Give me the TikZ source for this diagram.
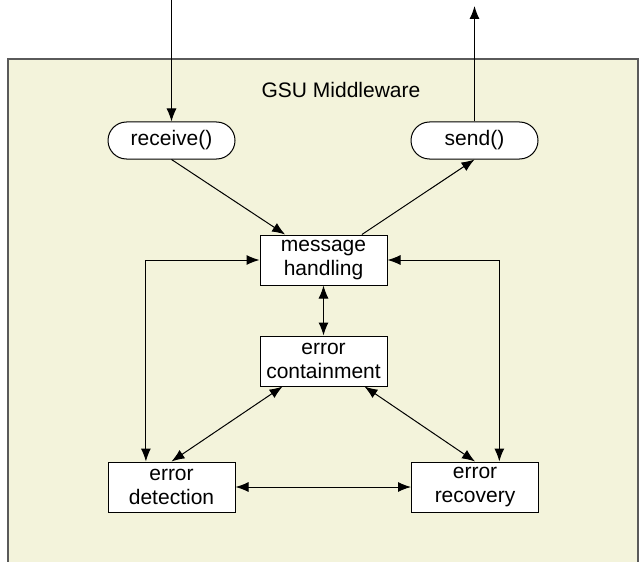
\documentclass[tikz,border=0pt]{standalone}
\usepackage{fontspec}
\setmainfont{Liberation Sans}
\usetikzlibrary{arrows.meta,calc}
\definecolor{gsuFill}{RGB}{243,243,219}
\definecolor{gsuEdge}{RGB}{90,90,90}
\tikzset{
  gsuBox/.style={draw, fill=white, line width=0.5pt, minimum width=63.5pt, minimum height=25pt,
    inner sep=0pt, align=center, font=\fontsize{10.5}{12}\selectfont},
  gsuCall/.style={gsuBox, minimum height=18.5pt, rounded corners=9.25pt},
  gsuArrow/.style={line width=0.5pt, -{Latex[length=6.5pt,width=5pt]}},
  gsuBoth/.style={line width=0.5pt, {Latex[length=6.5pt,width=5pt]}-{Latex[length=6.5pt,width=5pt]}}
}

\begin{document}
\begin{tikzpicture}[x=0.5pt,y=-0.5pt]
\useasboundingbox (0,0) rectangle (640,561);
\draw[fill=gsuFill, draw=gsuEdge, line width=0.75pt] (8,59) rectangle (638,620);
\node[font=\fontsize{10.5}{12}\selectfont] (ndTitle) at (341,90) {GSU Middleware};

\node[gsuCall] (ndReceive) at (171.5,140.5) {receive()};
\node[gsuCall] (ndSend) at (474.5,140.5) {send()};
\node[gsuBox] (ndMessage) at (323.5,260) {message\\handling};
\node[gsuBox] (ndContain) at (323.5,361) {error\\containment};
\node[gsuBox] (ndDetect) at (171.5,487) {error\\detection};
\node[gsuBox] (ndRecover) at (475,487) {error\\recovery};

\coordinate (cIn) at (171.5,0);
\coordinate (cOut) at (474.5,6);

\draw[gsuArrow] (cIn) -- (ndReceive.north);
\draw[gsuArrow] (ndSend.north) -- (cOut);
\draw[gsuArrow] (ndReceive.south) -- ($(ndMessage.north west)!0.2!(ndMessage.north east)$);
\draw[gsuArrow] ($(ndMessage.north west)!0.8!(ndMessage.north east)$) -- (ndSend.south);
\draw[gsuBoth] (ndMessage.south) -- (ndContain.north);
\draw[gsuBoth] (ndMessage.west) -| ($(ndDetect.north west)!0.3!(ndDetect.north east)$);
\draw[gsuBoth] (ndMessage.east) -| ($(ndRecover.north west)!0.69!(ndRecover.north east)$);
\draw[gsuBoth] ($(ndContain.south west)!0.18!(ndContain.south east)$) -- (ndDetect.north);
\draw[gsuBoth] ($(ndContain.south west)!0.82!(ndContain.south east)$) -- (ndRecover.north);
\draw[gsuBoth] (ndDetect.east) -- (ndRecover.west);
\end{tikzpicture}
\end{document}
